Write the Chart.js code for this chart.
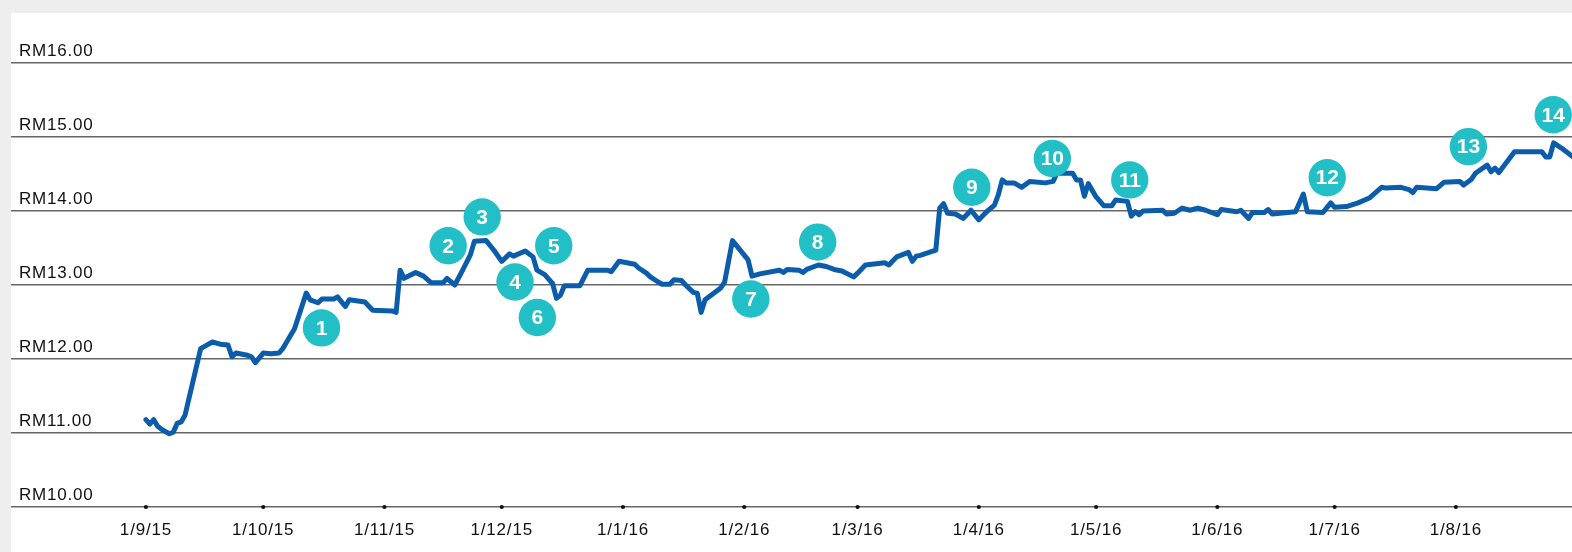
<!DOCTYPE html>
<html>
<head>
<meta charset="utf-8">
<title>Share price, Sep 2015 – Aug 2016</title>
<script src="https://cdn.jsdelivr.net/npm/chart.js@4.4.1/dist/chart.umd.min.js"></script>
<style>
  html, body { margin: 0; padding: 0; }
  body { width: 1572px; height: 552px; overflow: hidden; background: #eeeeee; position: relative; }
  #panel { position: absolute; left: 11px; top: 13px; right: 0; bottom: 0; background: #ffffff; }
  #wrap { position: absolute; left: 0; top: 0; width: 1572px; height: 552px; }
</style>
</head>
<body>
<div id="panel"></div>
<div id="wrap"><canvas id="chart" width="1572" height="552"></canvas></div>
<script>
// Month ticks (days counted from 1 Sep 2015)
const monthLabels = ['1/9/15', '1/10/15', '1/11/15', '1/12/15', '1/1/16', '1/2/16',
                     '1/3/16', '1/4/16', '1/5/16', '1/6/16', '1/7/16', '1/8/16'];
const monthDays = [0, 30, 61, 91, 122, 153, 182, 213, 243, 274, 304, 335];

// Price levels shown on the value axis
const priceTicks = [10, 11, 12, 13, 14, 15, 16];

// Closing price (RM), day offset from 1 Sep 2015
const priceDays = [
  0, 1, 2, 3, 4, 6, 7, 8, 9, 10, 14, 15, 17, 19, 21, 22, 23, 26, 27, 28,
  30, 32, 34, 35, 36, 38, 41, 42, 44, 45, 48, 49, 51, 52, 56, 58, 63, 64, 65, 66,
  69, 71, 73, 76, 77, 79, 81, 83, 84, 87, 89, 91, 93, 94, 97, 99, 100, 102, 103, 104,
  105, 106, 107, 111, 113, 118, 119, 121, 122, 125, 126, 128, 129, 131, 132, 134, 135, 137, 138, 140,
  141, 142, 143, 147, 148, 150, 154, 155, 157, 162, 163, 164, 167, 168, 169, 172, 174, 176, 178, 181,
  182, 184, 189, 190, 192, 195, 196, 197, 198, 202, 203, 204, 205, 207, 209, 211, 213, 215, 217, 218,
  219, 220, 222, 224, 226, 230, 232, 233, 237, 238, 239, 240, 241, 243, 245, 247, 248, 251, 252, 253,
  254, 255, 260, 261, 263, 265, 267, 269, 271, 274, 275, 279, 280, 282, 283, 286, 287, 288, 294, 296,
  297, 301, 303, 304, 307, 310, 313, 316, 317, 321, 323, 324, 325, 330, 332, 336, 337, 339, 340, 343,
  344, 345, 346, 350, 357, 358, 359, 360, 362, 365
];
const prices = [
  11.18, 11.12, 11.18, 11.09, 11.05, 10.99, 11.01, 11.13, 11.15, 11.24, 12.14, 12.17, 12.23, 12.20, 12.19, 12.03, 12.08, 12.05, 12.03, 11.95,
  12.08, 12.07, 12.08, 12.14, 12.23, 12.41, 12.89, 12.80, 12.76, 12.81, 12.81, 12.84, 12.71, 12.80, 12.77, 12.66, 12.65, 12.63, 13.20, 13.09,
  13.17, 13.12, 13.03, 13.03, 13.09, 13.00, 13.20, 13.41, 13.59, 13.60, 13.47, 13.32, 13.42, 13.39, 13.46, 13.38, 13.20, 13.14, 13.08, 13.02,
  12.82, 12.86, 12.99, 12.99, 13.20, 13.20, 13.18, 13.32, 13.31, 13.28, 13.23, 13.16, 13.11, 13.04, 13.01, 13.01, 13.07, 13.06, 13.00, 12.90,
  12.89, 12.63, 12.80, 12.96, 13.04, 13.60, 13.34, 13.12, 13.15, 13.20, 13.17, 13.21, 13.20, 13.17, 13.21, 13.27, 13.25, 13.21, 13.19, 13.11,
  13.16, 13.27, 13.30, 13.27, 13.38, 13.44, 13.32, 13.39, 13.40, 13.47, 14.04, 14.10, 13.97, 13.96, 13.90, 14.01, 13.88, 13.99, 14.08, 14.22,
  14.42, 14.38, 14.38, 14.32, 14.40, 14.38, 14.40, 14.51, 14.51, 14.42, 14.42, 14.20, 14.37, 14.19, 14.07, 14.07, 14.15, 14.13, 13.93, 13.99,
  13.95, 14.00, 14.01, 13.96, 13.97, 14.04, 14.01, 14.04, 14.01, 13.95, 14.02, 13.99, 14.01, 13.90, 13.98, 13.98, 14.02, 13.96, 13.99, 14.23,
  13.99, 13.98, 14.11, 14.05, 14.06, 14.11, 14.18, 14.32, 14.31, 14.32, 14.29, 14.25, 14.32, 14.30, 14.39, 14.40, 14.35, 14.43, 14.51, 14.62,
  14.53, 14.58, 14.52, 14.80, 14.80, 14.73, 14.73, 14.92, 14.85, 14.73
];

// Numbered event markers: day offset and price level of each marker
const eventNumbers = [1, 2, 3, 4, 5, 6, 7, 8, 9, 10, 11, 12, 13, 14];
const eventDays = [44.9, 77.3, 86.0, 94.4, 104.3, 100.1, 154.7, 171.8, 211.2, 231.8, 251.6, 302.1, 338.2, 359.9];
const eventLevels = [12.42, 13.53, 13.92, 13.04, 13.53, 12.56, 12.81, 13.58, 14.32, 14.71, 14.42, 14.45, 14.87, 15.30];

const FONT = "'Liberation Sans', Arial, Helvetica, sans-serif";

// Writes the marker numbers on top of the teal circles
const markerText = {
  id: 'markerText',
  afterDatasetsDraw(chart) {
    const meta = chart.getDatasetMeta(0);
    const ctx = chart.ctx;
    ctx.save();
    ctx.letterSpacing = '0px';
    ctx.fillStyle = '#ffffff';
    ctx.font = 'bold 21px ' + FONT;
    ctx.textAlign = 'center';
    ctx.textBaseline = 'middle';
    meta.data.forEach((pt, i) => {
      ctx.fillText(String(eventNumbers[i]), pt.x, pt.y + 1);
    });
    ctx.restore();
  }
};

// Slightly wider tracking for the axis text
const tracking = {
  id: 'tracking',
  beforeDraw(chart) { chart.ctx.letterSpacing = '0.8px'; }
};

new Chart(document.getElementById('chart'), {
  data: {
    datasets: [
      {
        type: 'scatter',
        label: 'events',
        data: eventDays.map((d, i) => ({ x: d, y: eventLevels[i] })),
        pointRadius: 18.7,
        pointHoverRadius: 18.7,
        pointBackgroundColor: '#22bfc7',
        pointBorderWidth: 0,
        clip: false,
        order: 0
      },
      {
        type: 'line',
        label: 'price',
        data: priceDays.map((d, i) => ({ x: d, y: prices[i] })),
        borderColor: '#0b5dab',
        borderWidth: 5,
        pointRadius: 0,
        tension: 0,
        borderJoinStyle: 'round',
        borderCapStyle: 'round',
        clip: false,
        order: 1
      },
      {
        type: 'scatter',
        label: 'month marks',
        data: monthDays.map(d => ({ x: d, y: priceTicks[0] })),
        pointRadius: 2.1,
        pointBackgroundColor: '#111111',
        pointBorderWidth: 0,
        clip: false,
        order: 2
      }
    ]
  },
  options: {
    responsive: false,
    devicePixelRatio: 1,
    animation: false,
    events: [],
    layout: { autoPadding: false, padding: { left: 11, top: 63, right: 0, bottom: 0 } },
    plugins: { legend: { display: false }, tooltip: { enabled: false } },
    scales: {
      x: {
        type: 'linear',
        min: -34.5,
        max: 364.7,
        afterBuildTicks(scale) { scale.ticks = monthDays.map(v => ({ value: v })); },
        afterFit(scale) {
          scale.height = 45;
          scale.paddingLeft = 0;
          scale.paddingRight = 0;
        },
        grid: { display: false, drawTicks: false },
        border: { display: false },
        ticks: {
          autoSkip: false,
          maxRotation: 0,
          padding: 13,
          color: '#111111',
          font: { family: FONT, size: 17 },
          callback: (value, index) => monthLabels[index]
        }
      },
      y: {
        type: 'linear',
        position: 'left',
        min: 10,
        max: 16,
        afterBuildTicks(scale) { scale.ticks = priceTicks.map(v => ({ value: v })); },
        afterFit(scale) {
          scale.width = 0;
          scale.paddingTop = 0;
          scale.paddingBottom = 0;
        },
        grid: { color: '#666666', lineWidth: 1.4, drawTicks: false },
        border: { display: false },
        ticks: {
          mirror: true,
          padding: 8,
          labelOffset: -12,
          color: '#111111',
          font: { family: FONT, size: 17 },
          callback: (value) => 'RM' + Number(value).toFixed(2)
        }
      }
    }
  },
  plugins: [tracking, markerText]
});
</script>
</body>
</html>
